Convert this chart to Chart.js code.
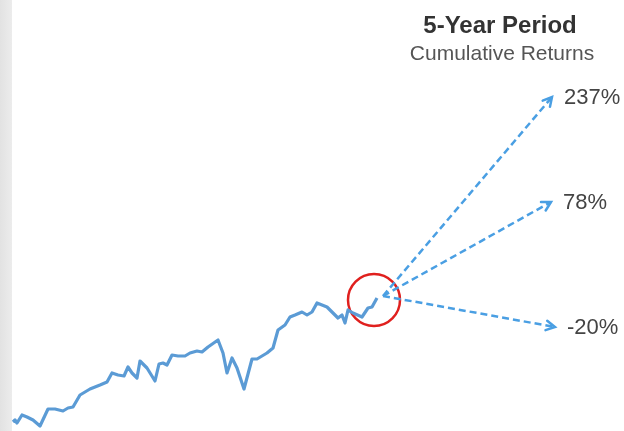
<!DOCTYPE html>
<html>
<head>
<meta charset="utf-8">
<script src="https://cdn.jsdelivr.net/npm/chart.js@4.4.1/dist/chart.umd.min.js"></script>
<style>
  html, body { margin: 0; padding: 0; background: #fff; }
  #wrap { width: 624px; height: 431px; position: relative; }
</style>
</head>
<body>
<div id="wrap"><canvas id="returnsChart"></canvas></div>
<script>
// ── Data ──────────────────────────────────────────────────────────────────────
// past price path (time step, index level)
const pathTime = [13, 15, 17, 22, 27, 33, 40, 48, 55, 63, 68, 73, 80, 85, 90, 100, 107, 112, 118, 124,
  128, 132, 137, 140, 147, 155, 159, 163, 167, 172, 178, 185, 190, 197, 202, 208, 218, 223, 227, 232,
  237, 244, 252, 257, 262, 267, 273, 278, 285, 290, 295, 302, 307, 312, 317, 327, 338, 342, 345, 348,
  353, 362, 368, 372, 377];
const pathLevel = [9, 11, 8, 16, 14, 11, 5, 22, 22, 20, 23, 24, 36, 39, 42, 46, 49, 58, 56, 55,
  64, 58, 53, 70, 63, 50, 67, 68, 66, 76, 75, 75, 78, 80, 79, 84, 91, 78, 58, 73,
  63, 42, 72, 72, 75, 78, 83, 101, 106, 114, 116, 119, 116, 119, 128, 124, 113, 116, 108, 121,
  118, 114, 123, 124, 133];

// today (where the three scenarios start)
const startTime = 383;
const startLevel = 135;

// 5-year scenarios
const scenarioLabels = ['237%', '78%', '-20%'];
const scenarioTime = [552, 551, 555];
const scenarioLevel = [334, 229, 104];

// ── Colours ───────────────────────────────────────────────────────────────────
const LINE_BLUE = '#5b9bd5';
const ARROW_BLUE = '#4a9fe3';
const CIRCLE_RED = '#e0201e';

// ── Plugins ───────────────────────────────────────────────────────────────────
const backdrop = {
  id: 'backdrop',
  beforeDraw(chart) {
    const ctx = chart.ctx;
    ctx.save();
    const g = ctx.createLinearGradient(0, 0, 12, 0);
    g.addColorStop(0, '#e2e2e2');
    g.addColorStop(1, '#ececec');
    ctx.fillStyle = g;
    ctx.fillRect(0, 0, 12, chart.height);
    ctx.restore();
  }
};

const arrowsAndText = {
  id: 'arrowsAndText',
  afterDatasetsDraw(chart) {
    const ctx = chart.ctx;
    ctx.save();
    chart.data.datasets.forEach((ds, i) => {
      if (!ds.isArrow) return;
      const pts = chart.getDatasetMeta(i).data;
      const a = pts[0], b = pts[pts.length - 1];
      const ang = Math.atan2(b.y - a.y, b.x - a.x);
      const len = 10;
      ctx.strokeStyle = ARROW_BLUE;
      ctx.lineWidth = 2.5;
      ctx.setLineDash([]);
      ctx.lineCap = 'round';
      ctx.beginPath();
      ctx.moveTo(b.x - len * Math.cos(ang - 0.5), b.y - len * Math.sin(ang - 0.5));
      ctx.lineTo(b.x, b.y);
      ctx.lineTo(b.x - len * Math.cos(ang + 0.5), b.y - len * Math.sin(ang + 0.5));
      ctx.stroke();

      ctx.fillStyle = '#444';
      ctx.font = '22px "Liberation Sans", Arial, sans-serif';
      ctx.textBaseline = 'middle';
      ctx.textAlign = 'left';
      ctx.fillText(ds.label, b.x + 12, b.y + 1);
    });

    ctx.textAlign = 'center';
    ctx.textBaseline = 'alphabetic';
    ctx.fillStyle = '#333';
    ctx.font = 'bold 24px "Liberation Sans", Arial, sans-serif';
    ctx.fillText('5-Year Period', 500, 33);
    ctx.fillStyle = '#555';
    ctx.font = '21px "Liberation Sans", Arial, sans-serif';
    ctx.fillText('Cumulative Returns', 502, 60);
    ctx.restore();
  }
};

// ── Datasets ──────────────────────────────────────────────────────────────────
const pathData = pathTime.map((t, i) => ({ x: t, y: pathLevel[i] }));

const arrowSets = scenarioLabels.map((lab, i) => ({
  label: lab,
  isArrow: true,
  data: [{ x: startTime, y: startLevel }, { x: scenarioTime[i], y: scenarioLevel[i] }],
  borderColor: ARROW_BLUE,
  borderWidth: 2.5,
  borderDash: [7, 4],
  pointRadius: 0,
  showLine: true,
  fill: false
}));

new Chart(document.getElementById('returnsChart'), {
  type: 'scatter',
  data: {
    datasets: [
      {
        label: 'path',
        data: pathData,
        showLine: true,
        borderColor: LINE_BLUE,
        borderWidth: 3.2,
        pointRadius: 0,
        tension: 0,
        borderJoinStyle: 'round'
      },
      ...arrowSets,
      {
        label: 'today',
        data: [{ x: 374, y: 131 }],
        pointRadius: 26,
        pointHoverRadius: 26,
        pointBorderWidth: 2.5,
        pointBorderColor: CIRCLE_RED,
        pointBackgroundColor: 'rgba(0,0,0,0)'
      }
    ]
  },
  options: {
    responsive: true,
    maintainAspectRatio: false,
    animation: false,
    layout: { padding: 0, autoPadding: false },
    plugins: { legend: { display: false }, tooltip: { enabled: false } },
    scales: {
      x: { type: 'linear', min: 0, max: 624, display: false },
      y: { type: 'linear', min: 0, max: 431, display: false }
    }
  },
  plugins: [backdrop, arrowsAndText]
});
</script>
</body>
</html>
